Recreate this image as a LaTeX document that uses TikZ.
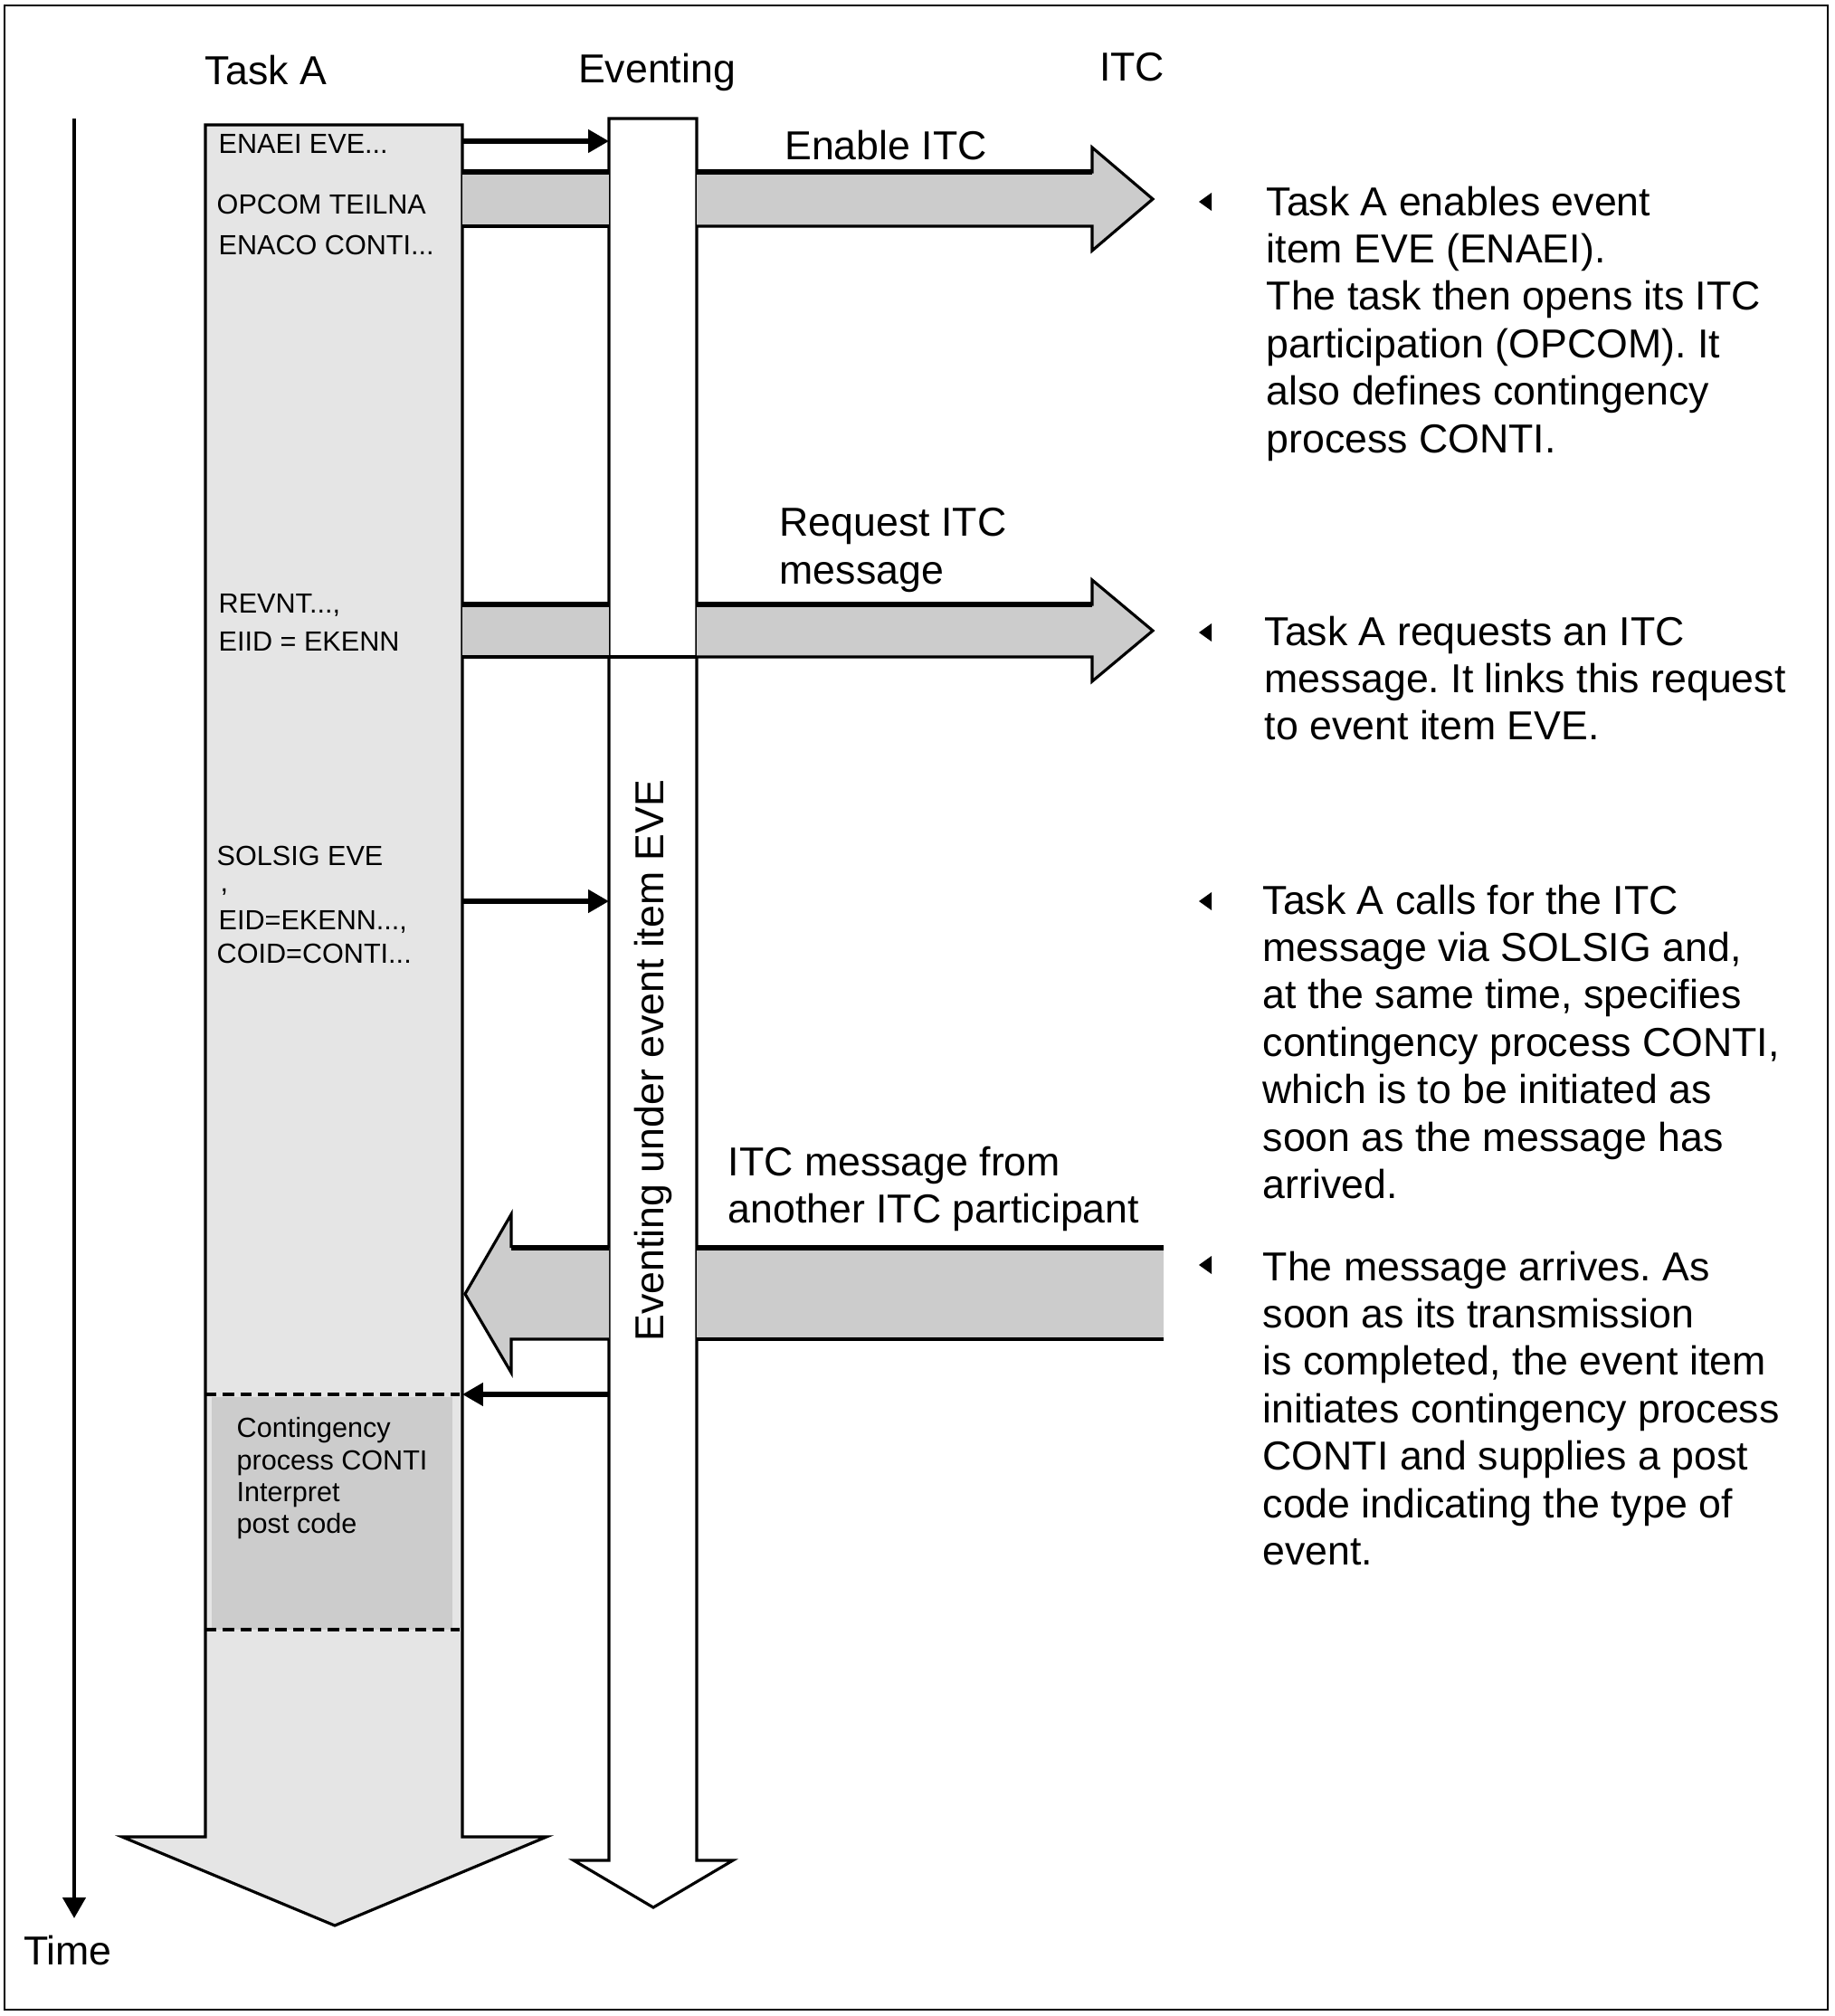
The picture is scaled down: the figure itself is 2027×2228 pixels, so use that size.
\documentclass[tikz,border=0pt]{standalone}
\usepackage{fontspec}
\setmainfont{Liberation Sans}
\frenchspacing
\usetikzlibrary{arrows.meta,positioning}
\definecolor{lanegray}{gray}{0.9}
\definecolor{bandgray}{gray}{0.8}
\tikzset{>={Triangle[length=6.5pt,width=7pt]},
every node/.style={inner sep=0pt},
bigtext/.style={font=\fontsize{12.7}{14.9}\selectfont},
smalltext/.style={font=\fontsize{8.7}{11}\selectfont,anchor=west},
note/.style={bigtext,align=left,anchor=north west},
outerframe/.style={line width=0.7pt},
lane/.style={draw,line width=0.9pt},
call/.style={->,line width=1.5pt},
timeline/.style={->,line width=1.4pt},
bandtop/.style={line width=1.8pt},
bandbot/.style={line width=0.9pt},
sectionline/.style={line width=1.3pt,dash pattern=on 3.5pt off 2pt}}
% band from task A through eventing towards ITC
\newcommand{\sendband}[3]{%
  \coordinate (#1-t) at (0,#2);
  \coordinate (#1-b) at (0,#3);
  \fill[bandgray] (A-e |- #1-t) rectangle (E-w |- #1-b);
  \draw[bandtop] (A-e |- #1-t) -- (E-w |- #1-t);
  \draw[bandbot] (A-e |- #1-b) -- (E-w |- #1-b);
  \filldraw[bandbot,fill=bandgray] (E-e |- #1-b) -- (1207,#3) -- (1207,#3+27)
    -- (1274,{(#2+#3)/2}) -- (1207,#2-27) -- (1207,#2) -- (E-e |- #1-t);
  \draw[bandtop] (E-e |- #1-t) -- (1207,#2);}
\newcommand{\notemark}[1]{\fill (#1) ++(-7,0) -- ++(14,-10) -- ++(0,20) -- cycle;}
\begin{document}
\begin{tikzpicture}[x=0.01cm,y=-0.01cm]
  \useasboundingbox (0,0) rectangle (2027,2228);
  \draw[outerframe] (5,6) rectangle (2020,2221);

  % lane edges
  \coordinate (A-w) at (227,138);
  \coordinate (A-e) at (511,138);
  \coordinate (E-w) at (673,131);
  \coordinate (E-e) at (770,131);

  % headings
  \node[bigtext] (taskA) at (294,78) {Task A};
  \node[bigtext] (eventing) at (726,80) {Eventing};
  \node[bigtext] (itc) at (1251,74) {ITC};

  % time axis
  \coordinate (time-top) at (82,131);
  \coordinate (time-end) at (82,2120);
  \draw[timeline] (time-top) -- (time-end);
  \node[bigtext] (time) at (75,2156) {Time};

  % lanes
  \filldraw[lane,fill=lanegray] (A-w) -- (A-e) -- (511,2030) -- (604,2030)
    -- (370,2128) -- (135,2030) -- (227,2030) -- cycle;
  \filldraw[lane,fill=white] (E-w) -- (E-e) -- (770,2056) -- (810,2056)
    -- (722,2108) -- (634,2056) -- (673,2056) -- cycle;

  % contingency process
  \fill[bandgray] (234,1544) rectangle (500,1801);
  \coordinate (conti-y) at (0,1541);
  \coordinate (conti-end) at (0,1801);
  \draw[sectionline] (A-w |- conti-y) -- (508,1541);
  \draw[sectionline] (A-w |- conti-end) -- (508,1801);
  \node[smalltext,font=\fontsize{8.7}{10}\selectfont,anchor=north west,align=left]
    (conti) at (261,1566) {Contingency\\process CONTI\\Interpret\\post code};

  % enable ITC, request ITC message
  \sendband{enable}{190}{250}
  \sendband{request}{668}{726}
  \draw[lane] (E-w |- request-b) -- (E-e |- request-b);

  % ITC message from outside
  \coordinate (rcv-t) at (0,1379);
  \coordinate (rcv-b) at (0,1480);
  \fill[bandgray] (E-e |- rcv-t) rectangle (1286,1480);
  \draw[bandtop] (E-e |- rcv-t) -- (1286,1379);
  \draw[bandbot] (E-e |- rcv-b) -- (1286,1480);
  \fill[bandgray] (E-w |- rcv-b) -- (565,1480) -- (565,1517) -- (514,1430)
    -- (565,1342) -- (565,1379) -- (E-w |- rcv-t) -- cycle;
  \draw[bandbot] (E-w |- rcv-b) -- (565,1480) -- (565,1517)
    -- (514,1430) -- (565,1342) -- (565,1379);
  \draw[bandtop] (565,1379) -- (E-w |- rcv-t);

  % calls
  \coordinate (enaei-y) at (0,156);
  \coordinate (solsig-y) at (0,996);
  \draw[call] (A-e |- enaei-y) -- (E-w |- enaei-y);
  \draw[call] (A-e |- solsig-y) -- (E-w |- solsig-y);
  \draw[call] (E-w |- conti-y) -- (A-e |- conti-y);

  % task A statements
  \node[smalltext] (enaei) at (241,159) {ENAEI EVE...};
  \node[smalltext] (opcom) at (239,226) {OPCOM TEILNA};
  \node[smalltext] (enaco) at (241,271) {ENACO CONTI...};
  \node[smalltext] (revnt) at (241,669) {REVNT...,};
  \node[smalltext] (eiid) at (241,709) {EIID = EKENN};
  \node[smalltext] (solsig) at (239,946) {SOLSIG EVE};
  \node[smalltext] (comma) at (243,986) {,};
  \node[smalltext] (eid) at (241,1019) {EID=EKENN...,};
  \node[smalltext] (coid) at (239,1054) {COID=CONTI...};

  % labels
  \node[bigtext,rotate=90] (evlabel) at (722,1172) {Eventing under event item EVE};
  \node[bigtext] (enable) at (979,161) {Enable ITC};
  \node[note] (request) at (861,561) {Request ITC\\message};
  \node[note] (foreign) at (804,1266) {ITC message from\\another ITC participant};

  % explanations
  \coordinate (mark1) at (1332,223);
  \coordinate (mark2) at (1332,699);
  \coordinate (mark3) at (1332,996);
  \coordinate (mark4) at (1332,1398);
  \notemark{mark1}
  \notemark{mark2}
  \notemark{mark3}
  \notemark{mark4}
  \node[note] (note1) at (1399,205) {Task A enables event\\item EVE (ENAEI).\\The task then opens its ITC\\participation (OPCOM). It\\also defines contingency\\process CONTI.};
  \node[note] (note2) at (1397,680) {Task A requests an ITC\\message. It links this request\\to event item EVE.};
  \node[note] (note3) at (1395,977) {Task A calls for the ITC\\message via SOLSIG and,\\at the same time, specifies\\contingency process CONTI,\\which is to be initiated as\\soon as the message has\\arrived.};
  \node[note] (note4) at (1395,1382) {The message arrives. As\\soon as its transmission\\is completed, the event item\\initiates contingency process\\CONTI and supplies a post\\code indicating the type of\\event.};
\end{tikzpicture}
\end{document}
